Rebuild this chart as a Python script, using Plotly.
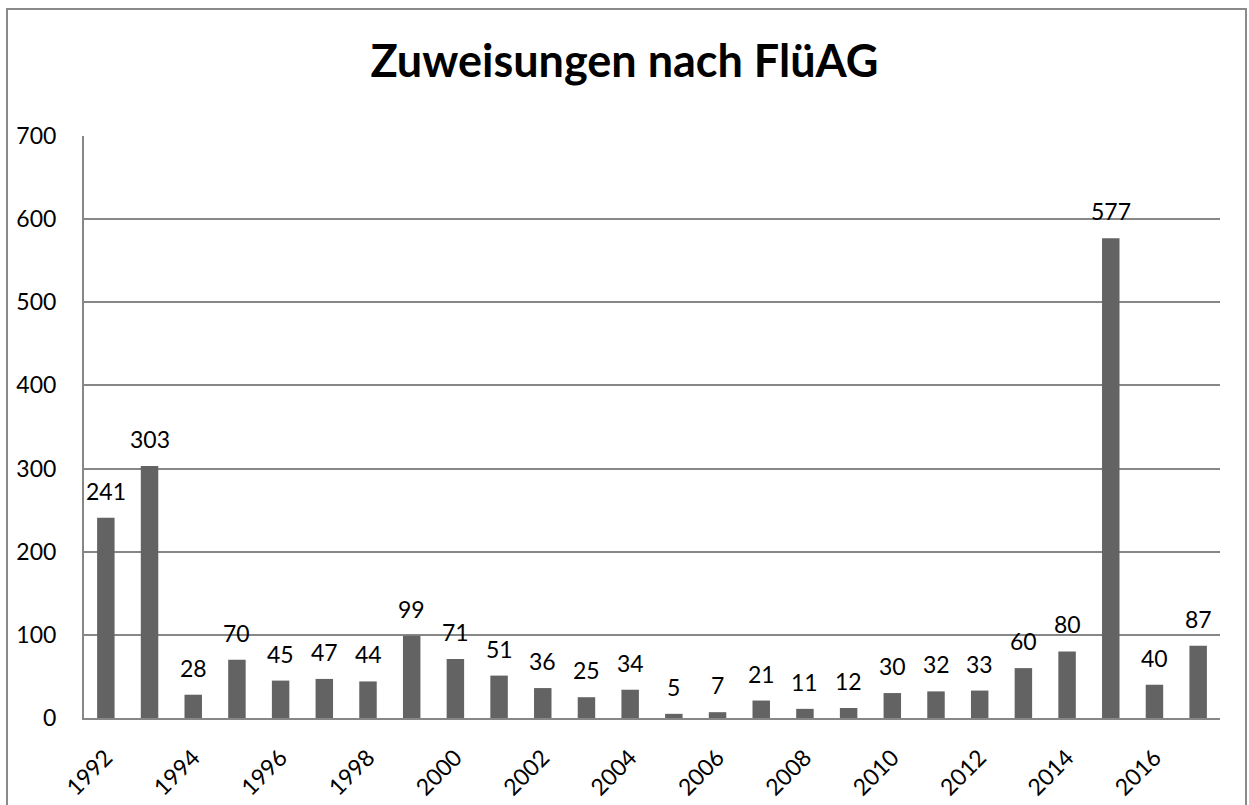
import plotly.graph_objects as go

years = list(range(1992, 2018))
values = [241, 303, 28, 70, 45, 47, 44, 99, 71, 51, 36, 25, 34, 5, 7, 21, 11, 12, 30, 32, 33, 60, 80, 577, 40, 87]
tick_years = [y for y in years if y % 2 == 0]
tick_labels = [str(y) for y in tick_years]
title_text = "Zuweisungen nach FlüAG"

FONT = "Lato"
GRID = "#878787"
BAR = "#636363"

fig = go.Figure()
fig.add_trace(go.Bar(x=years, y=values, marker=dict(color=BAR, line=dict(width=0)),
                     hoverinfo="x+y"))

for x, v in zip(years, values):
    fig.add_annotation(x=x, y=v, text=str(v), showarrow=False, yanchor="bottom",
                       yshift=11, font=dict(family=FONT, size=23, color="black"))

W, H = 1249, 805
ml, mr, mt, mb = 84, 29, 136, 87
pw, ph = W - ml - mr, H - mt - mb

def px(xp):
    return (xp - ml) / pw

def py(yp):
    return (H - mb - yp) / ph

fig.add_shape(type="rect", xref="paper", yref="paper",
              x0=px(7), x1=px(1246), y0=py(812), y1=py(9),
              line=dict(color="#8a8a8a", width=2), layer="below")

fig.update_layout(
    width=W, height=H,
    margin=dict(l=ml, r=mr, t=mt, b=mb, autoexpand=False),
    paper_bgcolor="white", plot_bgcolor="white",
    bargap=0.6, showlegend=False,
    font=dict(family=FONT, size=23, color="black"),
    title=dict(text="<b>" + title_text + "</b>", x=0.5, xanchor="center",
               y=1 - 61 / H, yanchor="middle", yref="container",
               font=dict(family=FONT, size=45, color="black")),
    xaxis=dict(range=[1991.5, 2017.5], tickmode="array", tickvals=tick_years,
               ticktext=tick_labels, tickangle=-45, showgrid=False,
               showline=True, linecolor=GRID, linewidth=2, ticks="",
               ticklabelstandoff=15, zeroline=False, automargin=False,
               tickfont=dict(family=FONT, size=23, color="black")),
    yaxis=dict(range=[0, 700], tickmode="array", tickvals=list(range(0, 701, 100)),
               showgrid=True, gridcolor=GRID, gridwidth=2, showline=True,
               linecolor=GRID, linewidth=2, zeroline=False, ticks="",
               ticklabelstandoff=21, automargin=False,
               tickfont=dict(family=FONT, size=23, color="black")),
)

fig.write_html("out.html", config={"displayModeBar": False},
               post_script="document.body.style.margin='0';document.body.style.overflow='hidden';")
